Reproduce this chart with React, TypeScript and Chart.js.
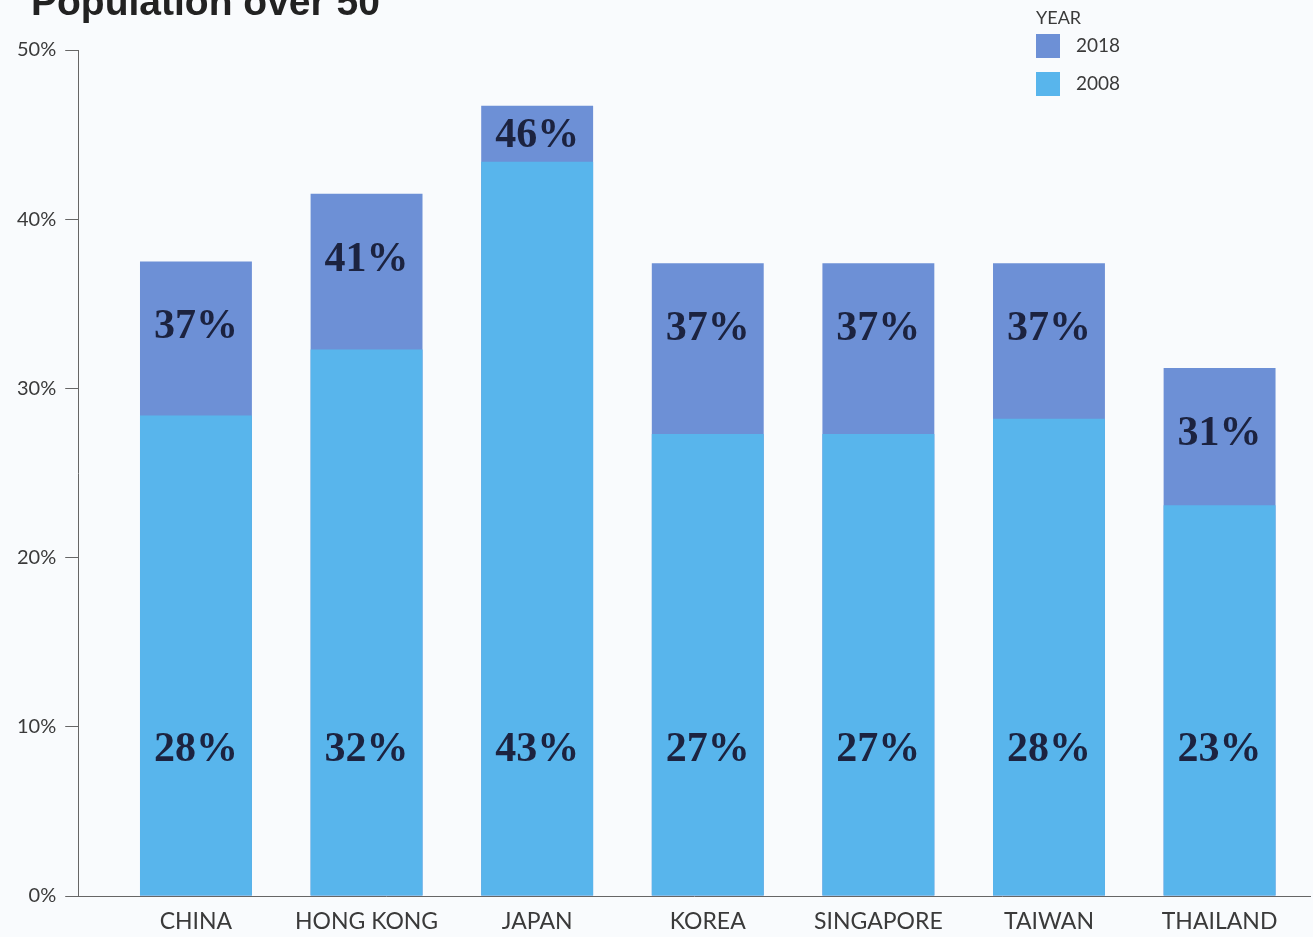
import React, { useEffect, useRef } from 'react';
import { Chart, registerables } from 'chart.js';

Chart.register(...registerables);

const titleText = 'Population over 50';
const legendTitle = 'YEAR';
const categories = ['CHINA', 'HONG KONG', 'JAPAN', 'KOREA', 'SINGAPORE', 'TAIWAN', 'THAILAND'];
const seriesNames = ['2018', '2008'];
const values2018 = [37.5, 41.5, 46.7, 37.4, 37.4, 37.4, 31.2];
const values2008 = [28.4, 32.3, 43.4, 27.3, 27.3, 28.2, 23.1];
const labels2018 = ['37%', '41%', '46%', '37%', '37%', '37%', '31%'];
const labels2008 = ['28%', '32%', '43%', '27%', '27%', '28%', '23%'];
const yMin = 0;
const yMax = 50;
const yStep = 10;
const label2008Level = 8.6;

const COLOR_2018 = '#6d90d6';
const COLOR_2008 = '#58b5ec';
const TEXT_DARK = '#1c2340';
const AXIS_TEXT = '#3a3a3a';

const overlayPlugin = {
  id: 'overlay',
  afterDatasetsDraw(chart: any) {
    const ctx = chart.ctx;
    const m18 = chart.getDatasetMeta(0);
    const m08 = chart.getDatasetMeta(1);
    const yScale = chart.scales.y;
    ctx.save();
    ctx.fillStyle = TEXT_DARK;
    ctx.font = 'bold 42px "Liberation Serif"';
    ctx.textAlign = 'center';
    ctx.textBaseline = 'middle';
    categories.forEach((_, i) => {
      const b18 = m18.data[i];
      const b08 = m08.data[i];
      const band = b08.y - b18.y;
      const off = Math.min(66, band / 2 + 2);
      ctx.fillText(labels2018[i], b18.x, b18.y + off);
      ctx.fillText(labels2008[i], b08.x, yScale.getPixelForValue(label2008Level));
    });
    ctx.restore();
  },
  afterDraw(chart: any) {
    const ctx = chart.ctx;
    ctx.save();
    ctx.fillStyle = '#222222';
    ctx.font = 'bold 39px "Liberation Sans"';
    ctx.textAlign = 'left';
    ctx.textBaseline = 'alphabetic';
    ctx.fillText(titleText, 31, 15);
    const lx = 1036;
    ctx.fillStyle = AXIS_TEXT;
    ctx.font = '18px Lato';
    ctx.textBaseline = 'middle';
    ctx.fillText(legendTitle, lx, 18);
    const colors = [COLOR_2018, COLOR_2008];
    seriesNames.forEach((name, i) => {
      const cy = 46 + i * 38;
      ctx.fillStyle = colors[i];
      ctx.fillRect(lx, cy - 12, 24, 24);
      ctx.fillStyle = AXIS_TEXT;
      ctx.font = '19px Lato';
      ctx.fillText(name, lx + 40, cy);
    });
    ctx.restore();
  },
};

export default function App() {
  const ref = useRef<HTMLCanvasElement | null>(null);
  useEffect(() => {
    if (!ref.current) return;
    const chart = new Chart(ref.current, {
      type: 'bar',
      data: {
        datasets: [
          {
            label: seriesNames[0],
            data: values2018.map((v, i) => ({ x: i, y: v })),
            backgroundColor: COLOR_2018,
            order: 2,
            categoryPercentage: 1,
            barPercentage: 0.656,
          },
          {
            label: seriesNames[1],
            data: values2008.map((v, i) => ({ x: i, y: v })),
            backgroundColor: COLOR_2008,
            order: 1,
            categoryPercentage: 1,
            barPercentage: 0.656,
          },
        ],
      },
      options: {
        animation: false,
        responsive: true,
        maintainAspectRatio: false,
        layout: { padding: { top: 50, left: 8, right: 3, bottom: 0 } },
        plugins: {
          legend: { display: false },
          title: { display: false },
          tooltip: { enabled: false },
        },
        scales: {
          x: {
            type: 'linear',
            stacked: true,
            offset: false,
            min: -0.69,
            max: 6.53,
            grid: { display: false, drawTicks: false, offset: false },
            border: { display: true, color: '#666666', width: 1 },
            afterFit: (scale: any) => {
              scale.height = 41;
            },
            ticks: {
              stepSize: 1,
              includeBounds: false,
              autoSkip: false,
              maxRotation: 0,
              padding: 12,
              color: AXIS_TEXT,
              font: { family: 'Lato', size: 23 },
              callback: (v: any) => (categories[v] !== undefined ? categories[v] : ''),
            },
          },
          y: {
            stacked: false,
            min: yMin,
            max: yMax,
            grid: {
              drawOnChartArea: false,
              drawTicks: true,
              tickLength: 13,
              color: '#666666',
            },
            border: { display: true, color: '#666666', width: 1 },
            ticks: {
              stepSize: yStep,
              padding: 9,
              color: AXIS_TEXT,
              font: { family: 'Lato', size: 20 },
              callback: (v: any) => v + '%',
            },
          },
        },
      },
      plugins: [overlayPlugin],
    } as any);
    return () => chart.destroy();
  }, []);
  return (
    <div style={{ position: 'fixed', left: 0, top: 0, width: 1313, height: 937, background: '#f9fbfd' }}>
      <canvas ref={ref} />
    </div>
  );
}
